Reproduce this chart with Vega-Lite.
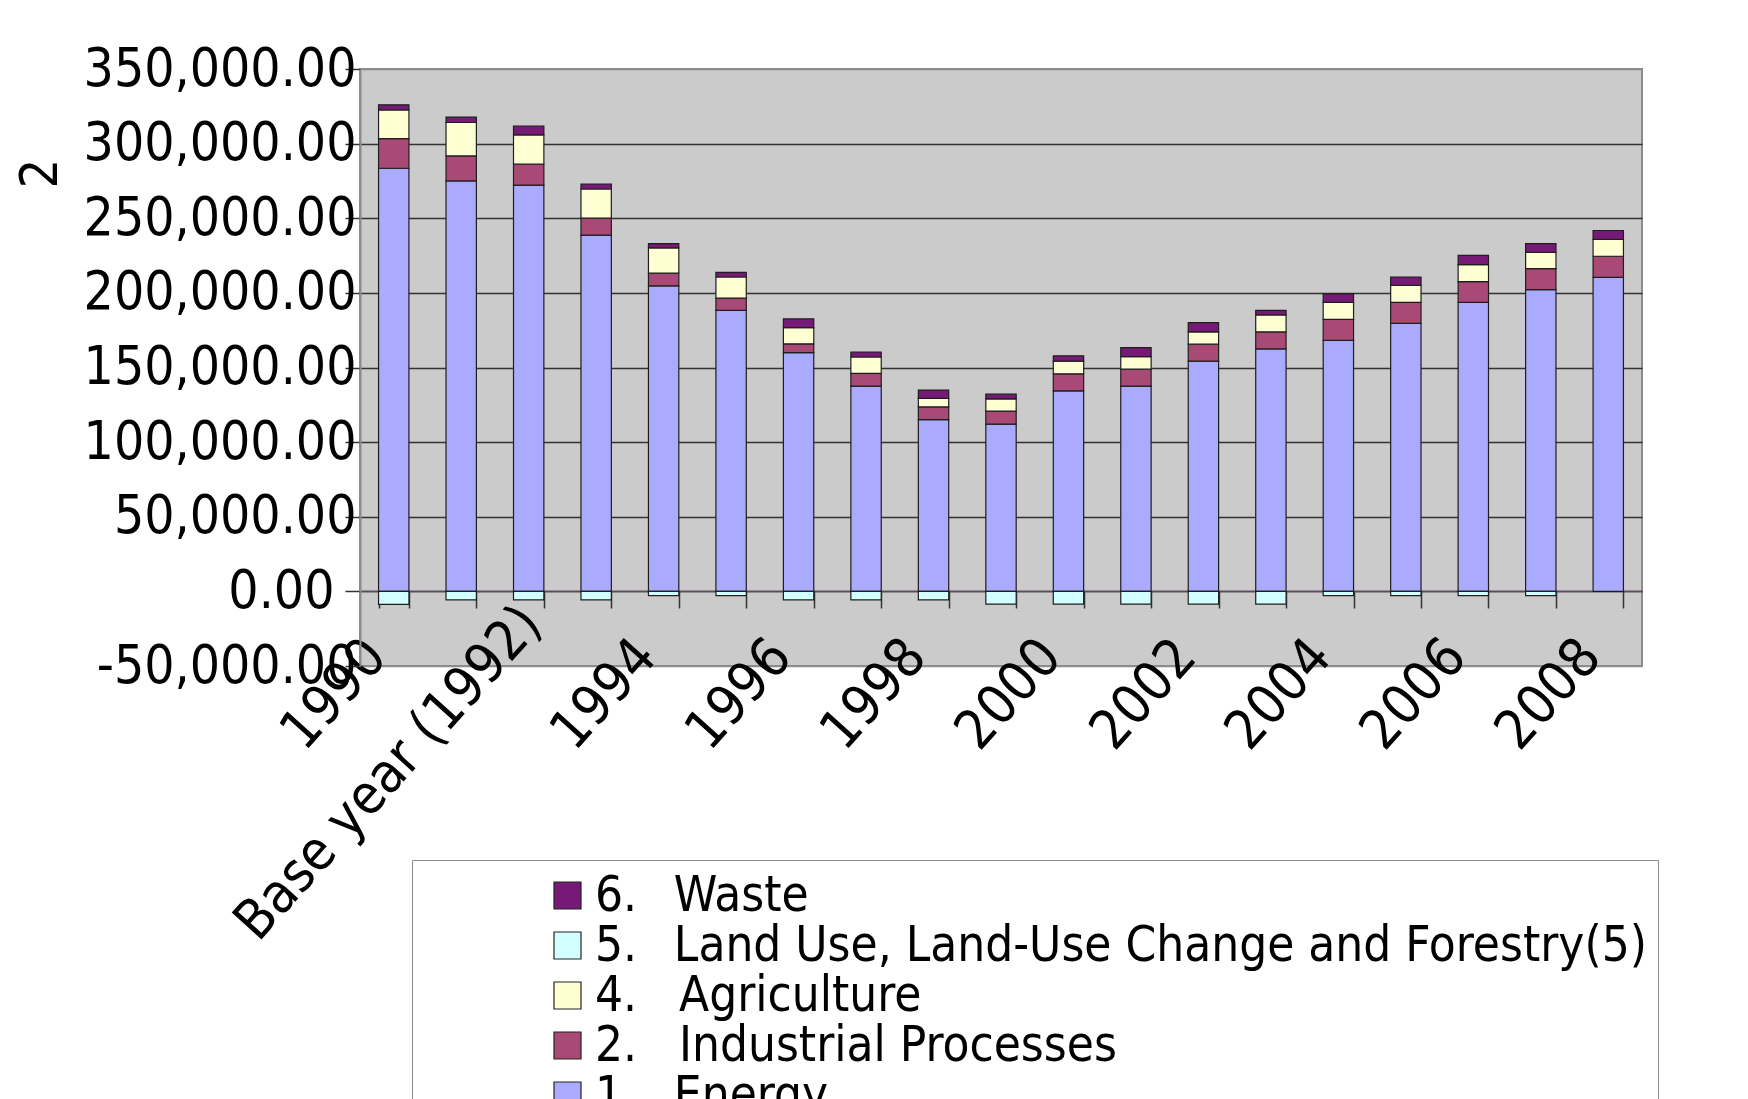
{
  "$schema": "https://vega.github.io/schema/vega-lite/v6.json",
  "width": 1282,
  "height": 597,
  "autosize": {"type": "none"},
  "padding": {"left": 360, "top": 69, "right": 106, "bottom": 433},
  "background": "white",
  "config": {
    "font": "DejaVu Sans Condensed, DejaVu Sans",
    "view": {"fill": "#CBCBCB", "stroke": "#8C8C8C", "strokeWidth": 2}
  },
  "data": {"values": [
    {"year": "1990", "sector": "1.\u00a0\u00a0\u2009Energy", "code": 1, "value": 283500},
    {"year": "1990", "sector": "2.\u00a0\u00a0\u00a0Industrial Processes", "code": 2, "value": 19800},
    {"year": "1990", "sector": "4.\u00a0\u00a0\u00a0Agriculture", "code": 4, "value": 19350},
    {"year": "1990", "sector": "5.\u00a0\u00a0\u2009Land Use, Land-Use Change and Forestry(5)", "code": 5, "value": -8750},
    {"year": "1990", "sector": "6.\u00a0\u00a0\u2009Waste", "code": 6, "value": 3350},
    {"year": "1991", "sector": "1.\u00a0\u00a0\u2009Energy", "code": 1, "value": 275000},
    {"year": "1991", "sector": "2.\u00a0\u00a0\u00a0Industrial Processes", "code": 2, "value": 16750},
    {"year": "1991", "sector": "4.\u00a0\u00a0\u00a0Agriculture", "code": 4, "value": 22400},
    {"year": "1991", "sector": "5.\u00a0\u00a0\u2009Land Use, Land-Use Change and Forestry(5)", "code": 5, "value": -5650},
    {"year": "1991", "sector": "6.\u00a0\u00a0\u2009Waste", "code": 6, "value": 3600},
    {"year": "Base year (1992)", "sector": "1.\u00a0\u00a0\u2009Energy", "code": 1, "value": 272200},
    {"year": "Base year (1992)", "sector": "2.\u00a0\u00a0\u00a0Industrial Processes", "code": 2, "value": 14150},
    {"year": "Base year (1992)", "sector": "4.\u00a0\u00a0\u00a0Agriculture", "code": 4, "value": 19550},
    {"year": "Base year (1992)", "sector": "5.\u00a0\u00a0\u2009Land Use, Land-Use Change and Forestry(5)", "code": 5, "value": -5650},
    {"year": "Base year (1992)", "sector": "6.\u00a0\u00a0\u2009Waste", "code": 6, "value": 5900},
    {"year": "1993", "sector": "1.\u00a0\u00a0\u2009Energy", "code": 1, "value": 238700},
    {"year": "1993", "sector": "2.\u00a0\u00a0\u00a0Industrial Processes", "code": 2, "value": 11350},
    {"year": "1993", "sector": "4.\u00a0\u00a0\u00a0Agriculture", "code": 4, "value": 19550},
    {"year": "1993", "sector": "5.\u00a0\u00a0\u2009Land Use, Land-Use Change and Forestry(5)", "code": 5, "value": -5650},
    {"year": "1993", "sector": "6.\u00a0\u00a0\u2009Waste", "code": 6, "value": 3350},
    {"year": "1994", "sector": "1.\u00a0\u00a0\u2009Energy", "code": 1, "value": 204700},
    {"year": "1994", "sector": "2.\u00a0\u00a0\u00a0Industrial Processes", "code": 2, "value": 8500},
    {"year": "1994", "sector": "4.\u00a0\u00a0\u00a0Agriculture", "code": 4, "value": 17000},
    {"year": "1994", "sector": "5.\u00a0\u00a0\u2009Land Use, Land-Use Change and Forestry(5)", "code": 5, "value": -2850},
    {"year": "1994", "sector": "6.\u00a0\u00a0\u2009Waste", "code": 6, "value": 2850},
    {"year": "1995", "sector": "1.\u00a0\u00a0\u2009Energy", "code": 1, "value": 188250},
    {"year": "1995", "sector": "2.\u00a0\u00a0\u00a0Industrial Processes", "code": 2, "value": 8250},
    {"year": "1995", "sector": "4.\u00a0\u00a0\u00a0Agriculture", "code": 4, "value": 14150},
    {"year": "1995", "sector": "5.\u00a0\u00a0\u2009Land Use, Land-Use Change and Forestry(5)", "code": 5, "value": -2850},
    {"year": "1995", "sector": "6.\u00a0\u00a0\u2009Waste", "code": 6, "value": 3100},
    {"year": "1996", "sector": "1.\u00a0\u00a0\u2009Energy", "code": 1, "value": 159900},
    {"year": "1996", "sector": "2.\u00a0\u00a0\u00a0Industrial Processes", "code": 2, "value": 5950},
    {"year": "1996", "sector": "4.\u00a0\u00a0\u00a0Agriculture", "code": 4, "value": 10800},
    {"year": "1996", "sector": "5.\u00a0\u00a0\u2009Land Use, Land-Use Change and Forestry(5)", "code": 5, "value": -5650},
    {"year": "1996", "sector": "6.\u00a0\u00a0\u2009Waste", "code": 6, "value": 5900},
    {"year": "1997", "sector": "1.\u00a0\u00a0\u2009Energy", "code": 1, "value": 137500},
    {"year": "1997", "sector": "2.\u00a0\u00a0\u00a0Industrial Processes", "code": 2, "value": 8500},
    {"year": "1997", "sector": "4.\u00a0\u00a0\u00a0Agriculture", "code": 4, "value": 11050},
    {"year": "1997", "sector": "5.\u00a0\u00a0\u2009Land Use, Land-Use Change and Forestry(5)", "code": 5, "value": -5650},
    {"year": "1997", "sector": "6.\u00a0\u00a0\u2009Waste", "code": 6, "value": 3350},
    {"year": "1998", "sector": "1.\u00a0\u00a0\u2009Energy", "code": 1, "value": 115100},
    {"year": "1998", "sector": "2.\u00a0\u00a0\u00a0Industrial Processes", "code": 2, "value": 8500},
    {"year": "1998", "sector": "4.\u00a0\u00a0\u00a0Agriculture", "code": 4, "value": 5650},
    {"year": "1998", "sector": "5.\u00a0\u00a0\u2009Land Use, Land-Use Change and Forestry(5)", "code": 5, "value": -5650},
    {"year": "1998", "sector": "6.\u00a0\u00a0\u2009Waste", "code": 6, "value": 5650},
    {"year": "1999", "sector": "1.\u00a0\u00a0\u2009Energy", "code": 1, "value": 112000},
    {"year": "1999", "sector": "2.\u00a0\u00a0\u00a0Industrial Processes", "code": 2, "value": 8750},
    {"year": "1999", "sector": "4.\u00a0\u00a0\u00a0Agriculture", "code": 4, "value": 8250},
    {"year": "1999", "sector": "5.\u00a0\u00a0\u2009Land Use, Land-Use Change and Forestry(5)", "code": 5, "value": -8500},
    {"year": "1999", "sector": "6.\u00a0\u00a0\u2009Waste", "code": 6, "value": 3100},
    {"year": "2000", "sector": "1.\u00a0\u00a0\u2009Energy", "code": 1, "value": 134400},
    {"year": "2000", "sector": "2.\u00a0\u00a0\u00a0Industrial Processes", "code": 2, "value": 11350},
    {"year": "2000", "sector": "4.\u00a0\u00a0\u00a0Agriculture", "code": 4, "value": 8500},
    {"year": "2000", "sector": "5.\u00a0\u00a0\u2009Land Use, Land-Use Change and Forestry(5)", "code": 5, "value": -8500},
    {"year": "2000", "sector": "6.\u00a0\u00a0\u2009Waste", "code": 6, "value": 3600},
    {"year": "2001", "sector": "1.\u00a0\u00a0\u2009Energy", "code": 1, "value": 137500},
    {"year": "2001", "sector": "2.\u00a0\u00a0\u00a0Industrial Processes", "code": 2, "value": 11350},
    {"year": "2001", "sector": "4.\u00a0\u00a0\u00a0Agriculture", "code": 4, "value": 8500},
    {"year": "2001", "sector": "5.\u00a0\u00a0\u2009Land Use, Land-Use Change and Forestry(5)", "code": 5, "value": -8500},
    {"year": "2001", "sector": "6.\u00a0\u00a0\u2009Waste", "code": 6, "value": 5900},
    {"year": "2002", "sector": "1.\u00a0\u00a0\u2009Energy", "code": 1, "value": 154250},
    {"year": "2002", "sector": "2.\u00a0\u00a0\u00a0Industrial Processes", "code": 2, "value": 11350},
    {"year": "2002", "sector": "4.\u00a0\u00a0\u00a0Agriculture", "code": 4, "value": 8250},
    {"year": "2002", "sector": "5.\u00a0\u00a0\u2009Land Use, Land-Use Change and Forestry(5)", "code": 5, "value": -8500},
    {"year": "2002", "sector": "6.\u00a0\u00a0\u2009Waste", "code": 6, "value": 6200},
    {"year": "2003", "sector": "1.\u00a0\u00a0\u2009Energy", "code": 1, "value": 162500},
    {"year": "2003", "sector": "2.\u00a0\u00a0\u00a0Industrial Processes", "code": 2, "value": 11350},
    {"year": "2003", "sector": "4.\u00a0\u00a0\u00a0Agriculture", "code": 4, "value": 11350},
    {"year": "2003", "sector": "5.\u00a0\u00a0\u2009Land Use, Land-Use Change and Forestry(5)", "code": 5, "value": -8500},
    {"year": "2003", "sector": "6.\u00a0\u00a0\u2009Waste", "code": 6, "value": 3100},
    {"year": "2004", "sector": "1.\u00a0\u00a0\u2009Energy", "code": 1, "value": 168150},
    {"year": "2004", "sector": "2.\u00a0\u00a0\u00a0Industrial Processes", "code": 2, "value": 14150},
    {"year": "2004", "sector": "4.\u00a0\u00a0\u00a0Agriculture", "code": 4, "value": 11350},
    {"year": "2004", "sector": "5.\u00a0\u00a0\u2009Land Use, Land-Use Change and Forestry(5)", "code": 5, "value": -2850},
    {"year": "2004", "sector": "6.\u00a0\u00a0\u2009Waste", "code": 6, "value": 5650},
    {"year": "2005", "sector": "1.\u00a0\u00a0\u2009Energy", "code": 1, "value": 179500},
    {"year": "2005", "sector": "2.\u00a0\u00a0\u00a0Industrial Processes", "code": 2, "value": 14150},
    {"year": "2005", "sector": "4.\u00a0\u00a0\u00a0Agriculture", "code": 4, "value": 11350},
    {"year": "2005", "sector": "5.\u00a0\u00a0\u2009Land Use, Land-Use Change and Forestry(5)", "code": 5, "value": -2850},
    {"year": "2005", "sector": "6.\u00a0\u00a0\u2009Waste", "code": 6, "value": 5650},
    {"year": "2006", "sector": "1.\u00a0\u00a0\u2009Energy", "code": 1, "value": 193650},
    {"year": "2006", "sector": "2.\u00a0\u00a0\u00a0Industrial Processes", "code": 2, "value": 13900},
    {"year": "2006", "sector": "4.\u00a0\u00a0\u00a0Agriculture", "code": 4, "value": 11350},
    {"year": "2006", "sector": "5.\u00a0\u00a0\u2009Land Use, Land-Use Change and Forestry(5)", "code": 5, "value": -2850},
    {"year": "2006", "sector": "6.\u00a0\u00a0\u2009Waste", "code": 6, "value": 6200},
    {"year": "2007", "sector": "1.\u00a0\u00a0\u2009Energy", "code": 1, "value": 202150},
    {"year": "2007", "sector": "2.\u00a0\u00a0\u00a0Industrial Processes", "code": 2, "value": 14150},
    {"year": "2007", "sector": "4.\u00a0\u00a0\u00a0Agriculture", "code": 4, "value": 10800},
    {"year": "2007", "sector": "5.\u00a0\u00a0\u2009Land Use, Land-Use Change and Forestry(5)", "code": 5, "value": -2850},
    {"year": "2007", "sector": "6.\u00a0\u00a0\u2009Waste", "code": 6, "value": 5900},
    {"year": "2008", "sector": "1.\u00a0\u00a0\u2009Energy", "code": 1, "value": 210400},
    {"year": "2008", "sector": "2.\u00a0\u00a0\u00a0Industrial Processes", "code": 2, "value": 14150},
    {"year": "2008", "sector": "4.\u00a0\u00a0\u00a0Agriculture", "code": 4, "value": 11350},
    {"year": "2008", "sector": "5.\u00a0\u00a0\u2009Land Use, Land-Use Change and Forestry(5)", "code": 5, "value": 0},
    {"year": "2008", "sector": "6.\u00a0\u00a0\u2009Waste", "code": 6, "value": 5900}
  ]},
  "mark": {"type": "bar", "stroke": "#1E1E1E", "strokeWidth": 1.2},
  "encoding": {
    "x": {
      "field": "year", "type": "nominal", "sort": null,
      "scale": {"paddingInner": 0.55, "paddingOuter": 0.275},
      "axis": {
        "orient": "bottom", "offset": -75, "title": null,
        "tickBand": "extent", "ticks": true, "tickSize": 17, "tickColor": "#333333", "tickWidth": 1.5,
        "domain": true, "domainColor": "#5E4A5E", "domainWidth": 1.5,
        "labelAngle": -48, "labelAlign": "right", "labelBaseline": "middle",
        "labelPadding": {"condition": {"test": "datum.value == 'Base year (1992)'", "value": 6}, "value": 39},
        "labelOffset": {"condition": {"test": "datum.value == 'Base year (1992)'", "value": 2}, "value": -18},
        "labelFontSize": 55, "labelColor": "black",
        "labelFont": "DejaVu Sans Condensed, DejaVu Sans",
        "labelExpr": "indexof(['1990','Base year (1992)','1994','1996','1998','2000','2002','2004','2006','2008'], datum.value) >= 0 ? datum.label : ''",
        "labelLimit": 1000, "labelOverlap": false, "labelBound": false, "grid": false
      }
    },
    "y": {
      "field": "value", "type": "quantitative", "stack": "zero",
      "scale": {"domain": [-50000, 350000], "nice": false},
      "axis": {
        "title": "2", "titleX": -304, "titleY": 104, "titleAngle": -90, "titleBaseline": "alphabetic",
        "titleAlign": "center", "titleFontSize": 52, "titleFontWeight": "normal", "titleColor": "black",
        "titleFont": "DejaVu Sans Condensed, DejaVu Sans",
        "values": [-50000, 0, 50000, 100000, 150000, 200000, 250000, 300000, 350000],
        "labelExpr": "(datum.value < 0 ? '-' : '') + format(abs(datum.value), ',.2f')",
        "labelFontSize": 53, "labelColor": "black", "labelFont": "DejaVu Sans Condensed, DejaVu Sans",
        "labelPadding": {"condition": {"test": "datum.value == 0", "value": 11}, "value": -11},
        "labelAlign": "right", "labelBaseline": "middle", "labelLimit": 1000,
        "tickSize": 15, "tickColor": "#333333", "tickWidth": 1.5,
        "domainColor": "#8C8C8C", "domainWidth": 2,
        "grid": true,
        "gridColor": {"condition": {"test": "datum.value == 350000 || datum.value == -50000", "value": "#8C8C8C"}, "value": "#333333"},
        "gridWidth": 1.5
      }
    },
    "color": {
      "field": "sector", "type": "nominal",
      "scale": {
        "domain": ["6.\u00a0\u00a0\u2009Waste", "5.\u00a0\u00a0\u2009Land Use, Land-Use Change and Forestry(5)", "4.\u00a0\u00a0\u00a0Agriculture", "2.\u00a0\u00a0\u00a0Industrial Processes", "1.\u00a0\u00a0\u2009Energy"],
        "range": ["#771A77", "#D2FFFF", "#FFFFD4", "#A94A76", "#AAAAFF"]
      },
      "legend": {
        "orient": "none", "legendX": 52, "legendY": 791, "title": null, "direction": "vertical",
        "symbolType": "square", "symbolSize": 729, "symbolStrokeColor": "#222222", "symbolStrokeWidth": 1.2,
        "labelFontSize": 49, "labelFont": "DejaVu Sans Condensed, DejaVu Sans", "labelColor": "black",
        "labelLimit": 3000, "labelOffset": 3, "rowPadding": 0, "padding": 11, "symbolOffset": 120,
        "fillColor": "white", "strokeColor": "#8C8C8C"
      }
    },
    "order": {"field": "code", "sort": "ascending"}
  }
}
